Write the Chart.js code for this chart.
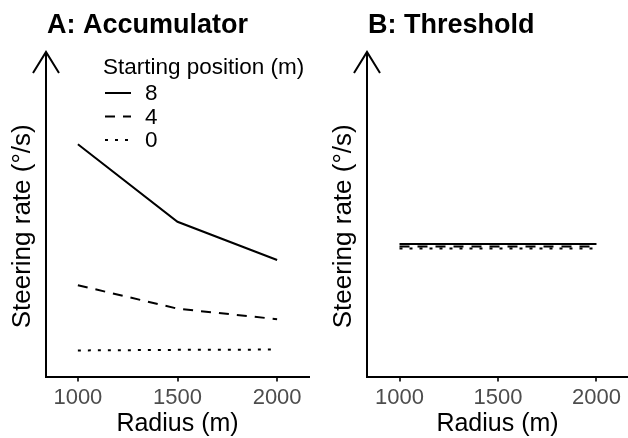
<!DOCTYPE html>
<html>
<head>
<meta charset="utf-8">
<script src="https://cdn.jsdelivr.net/npm/chart.js@4.4.0/dist/chart.umd.min.js"></script>
<style>
  html, body { margin: 0; padding: 0; background: #fff; }
  #wrap { position: relative; width: 628px; height: 438px; overflow: hidden; }
  #chartA { position: absolute; left: 0; top: 0; }
  #chartB { position: absolute; left: 321px; top: 0; }
</style>
</head>
<body>
<div id="wrap">
  <canvas id="chartA" width="321" height="438"></canvas>
  <canvas id="chartB" width="307" height="438"></canvas>
</div>
<script>
// radius of the bend (m) and the starting positions in the legend
const radius = [1000, 1500, 2000];
const startLabels = ['8', '4', '0'];
const xTicks = [1000, 1500, 2000];

// steering rate, arbitrary units (the y axis has no ticks)
const accum8 = [77.3, 51.5, 38.8];
const accum4 = [30.4, 22.6, 19.1];
const accum0 = [8.7, 8.9, 9.0];
const thresh8 = [44.1, 44.1, 44.1];
const thresh4 = [43.3, 43.3, 43.3];
const thresh0 = [42.6, 42.6, 42.6];

const dashes = [[], [10, 8], [3, 7]];
const FONT = '"Liberation Sans", Arial, Helvetica, sans-serif';

Chart.defaults.font.family = FONT;
Chart.defaults.color = '#000';

function makeSets(series) {
    return series.map((vals, i) => ({
        label: startLabels[i],
        data: radius.map((r, j) => ({ x: r, y: vals[j] })),
        borderColor: '#000',
        borderWidth: 2,
        borderDash: dashes[i],
        borderCapStyle: 'butt',
        pointRadius: 0,
        tension: 0,
        fill: false
    }));
}

// arrow on the y axis + panel title
const panelDecor = {
    id: 'panelDecor',
    afterDraw(chart, args, opts) {
        const { ctx, chartArea } = chart;
        const x = chartArea.left;
        const tip = opts.arrowTip;
        ctx.save();
        ctx.strokeStyle = '#000';
        ctx.lineWidth = 2;
        ctx.beginPath();
        ctx.moveTo(x, chartArea.top);
        ctx.lineTo(x, tip);
        ctx.moveTo(x - 13, tip + 21);
        ctx.lineTo(x, tip);
        ctx.lineTo(x + 13, tip + 21);
        ctx.stroke();

        ctx.fillStyle = '#000';
        ctx.font = 'bold 27px ' + FONT;
        ctx.textBaseline = 'alphabetic';
        ctx.textAlign = 'left';
        ctx.fillText(opts.title, x + 1, 33);
        ctx.restore();
    }
};

// line-type key inside the plot, like ggplot's
const lineKey = {
    id: 'lineKey',
    afterDraw(chart, args, opts) {
        if (!opts.display) return;
        const ctx = chart.ctx;
        ctx.save();
        ctx.fillStyle = '#000';
        ctx.textAlign = 'left';
        ctx.font = '22.5px ' + FONT;
        ctx.textBaseline = 'alphabetic';
        ctx.fillText(opts.title, opts.x, opts.y);
        ctx.textBaseline = 'middle';
        chart.data.datasets.forEach((ds, i) => {
            const y = opts.y + 19 + i * 23.5;
            ctx.strokeStyle = ds.borderColor;
            ctx.lineWidth = ds.borderWidth;
            ctx.setLineDash(ds.borderDash);
            ctx.beginPath();
            ctx.moveTo(opts.x + 2, y);
            ctx.lineTo(opts.x + 28, y);
            ctx.stroke();
            ctx.fillText(ds.label, opts.x + 42, y + 1);
        });
        ctx.restore();
    }
};

function makeChart(id, series, title, xMin, xMax, padRight, showKey) {
    return new Chart(document.getElementById(id), {
        type: 'line',
        data: { datasets: makeSets(series) },
        plugins: [panelDecor, lineKey],
        options: {
            responsive: false,
            animation: false,
            layout: { padding: { left: 10, right: padRight, top: 76, bottom: 0 } },
            plugins: {
                legend: { display: false },
                tooltip: { enabled: false },
                panelDecor: { title: title, arrowTip: 52 },
                lineKey: { display: showKey, title: 'Starting position (m)', x: 103, y: 74 }
            },
            scales: {
                x: {
                    type: 'linear',
                    min: xMin,
                    max: xMax,
                    afterBuildTicks: (axis) => { axis.ticks = xTicks.map(v => ({ value: v })); },
                    grid: { display: true, drawOnChartArea: false, drawTicks: true, tickLength: 5, color: '#333', lineWidth: 2 },
                    border: { display: true, color: '#000', width: 2 },
                    ticks: {
                        color: '#4d4d4d', padding: 3, maxRotation: 0,
                        font: { size: 22, lineHeight: 1.2 },
                        callback: (v) => String(v)
                    },
                    title: { display: true, text: 'Radius (m)', color: '#000', font: { size: 25, lineHeight: 0.84 }, padding: { top: 0, bottom: 3 } }
                },
                y: {
                    min: 0,
                    max: 100,
                    grid: { display: false, drawTicks: false },
                    border: { display: true, color: '#000', width: 2 },
                    ticks: { display: false },
                    title: { display: true, text: 'Steering rate (°/s)', color: '#000', font: { size: 26, lineHeight: 1 }, padding: { top: 0, bottom: 10 } }
                }
            }
        }
    });
}

makeChart('chartA', [accum8, accum4, accum0], 'A: Accumulator', 840, 2160, 12, true);
makeChart('chartB', [thresh8, thresh4, thresh0], 'B: Threshold', 835, 2160, 0, false);
</script>
</body>
</html>
